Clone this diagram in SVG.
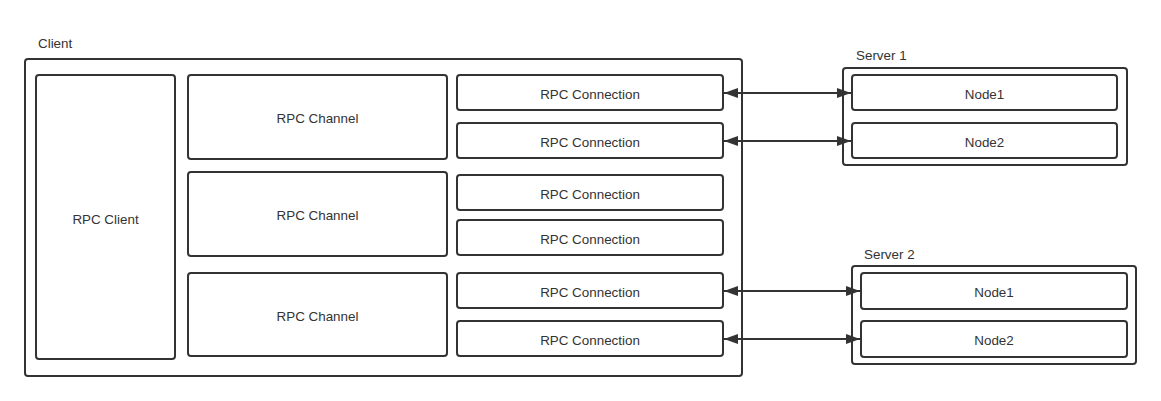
<svg xmlns="http://www.w3.org/2000/svg" width="1161" height="401" viewBox="0 0 1161 401">
<style>
.box{fill:#fff;stroke:#333;stroke-width:2}
.t{font-family:"Liberation Sans",Arial,sans-serif;font-size:13.4px;fill:#333;text-anchor:middle;dominant-baseline:central}
.lbl{font-family:"Liberation Sans",Arial,sans-serif;font-size:13.4px;fill:#333}
.c{stroke:#333;stroke-width:2;fill:none;marker-start:url(#a);marker-end:url(#a)}
</style>
<defs>
<marker id="a" viewBox="0 0 14 10" refX="14" refY="5" markerWidth="14" markerHeight="10" markerUnits="userSpaceOnUse" orient="auto-start-reverse">
<path d="M0,0L14,5L0,10z" fill="#333"/>
</marker>
</defs>
<rect width="1161" height="401" fill="#fff"/>
<g id="client">
<text class="lbl" x="38" y="48">Client</text>
<rect class="box" x="25" y="59" width="717" height="317" rx="3"/>
</g>
<g id="rpc-client"><rect class="box" x="36" y="75" width="139" height="284" rx="3"/><text class="t" x="105.5" y="219">RPC Client</text></g>
<g id="channel1"><rect class="box" x="188" y="75" width="259" height="84" rx="3"/><text class="t" x="317.5" y="118">RPC Channel</text></g>
<g id="channel2"><rect class="box" x="188" y="172" width="259" height="84" rx="3"/><text class="t" x="317.5" y="215">RPC Channel</text></g>
<g id="channel3"><rect class="box" x="188" y="273" width="259" height="83" rx="3"/><text class="t" x="317.5" y="316">RPC Channel</text></g>
<g id="conn1"><rect class="box" x="457" y="75" width="266" height="35" rx="3"/><text class="t" x="590" y="94">RPC Connection</text></g>
<g id="conn2"><rect class="box" x="457" y="123" width="266" height="35" rx="3"/><text class="t" x="590" y="142">RPC Connection</text></g>
<g id="conn3"><rect class="box" x="457" y="175" width="266" height="35" rx="3"/><text class="t" x="590" y="194">RPC Connection</text></g>
<g id="conn4"><rect class="box" x="457" y="220" width="266" height="35" rx="3"/><text class="t" x="590" y="239">RPC Connection</text></g>
<g id="conn5"><rect class="box" x="457" y="273" width="266" height="35" rx="3"/><text class="t" x="590" y="292">RPC Connection</text></g>
<g id="conn6"><rect class="box" x="457" y="321" width="266" height="35" rx="3"/><text class="t" x="590" y="340">RPC Connection</text></g>
<g id="server1">
<text class="lbl" x="856" y="60">Server 1</text>
<rect class="box" x="843" y="68" width="284" height="97" rx="3"/>
</g>
<g id="s1node1"><rect class="box" x="852" y="75" width="265" height="35" rx="3"/><text class="t" x="984.5" y="94">Node1</text></g>
<g id="s1node2"><rect class="box" x="852" y="123" width="265" height="35" rx="3"/><text class="t" x="984.5" y="142">Node2</text></g>
<g id="server2">
<text class="lbl" x="864" y="259">Server 2</text>
<rect class="box" x="852" y="266" width="284" height="98" rx="3"/>
</g>
<g id="s2node1"><rect class="box" x="861" y="273" width="266" height="36" rx="3"/><text class="t" x="994" y="292">Node1</text></g>
<g id="s2node2"><rect class="box" x="861" y="321" width="266" height="36" rx="3"/><text class="t" x="994" y="340">Node2</text></g>
<g id="connectors">
<line class="c" x1="724" y1="93" x2="851" y2="93"/>
<line class="c" x1="724" y1="141" x2="851" y2="141"/>
<line class="c" x1="724" y1="291" x2="860" y2="291"/>
<line class="c" x1="724" y1="339" x2="860" y2="339"/>
</g>
</svg>
